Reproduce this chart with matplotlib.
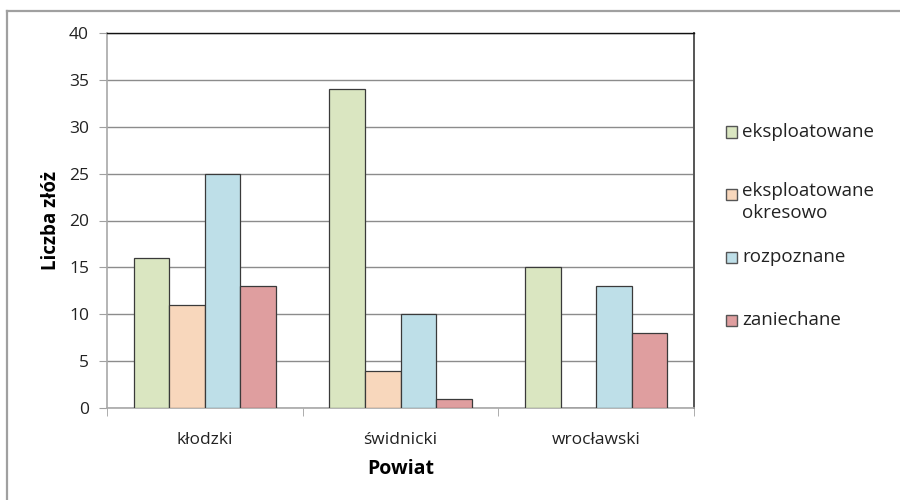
import matplotlib
matplotlib.use("Agg")
import matplotlib.pyplot as plt
from matplotlib.patches import Rectangle
from matplotlib.lines import Line2D
import numpy as np

categories = ["kłodzki", "świdnicki", "wrocławski"]
series_names = ["eksploatowane", "eksploatowane\nokresowo", "rozpoznane", "zaniechane"]
eksploatowane = [16, 34, 15]
eksploatowane_okresowo = [11, 4, 0]
rozpoznane = [25, 10, 13]
zaniechane = [13, 1, 8]
series_values = [eksploatowane, eksploatowane_okresowo, rozpoznane, zaniechane]
colors = ["#DAE6C1", "#F8D7BC", "#BEDFE8", "#DF9E9F"]
y_ticks = [0, 5, 10, 15, 20, 25, 30, 35, 40]

plt.rcParams['font.family'] = ['Open Sans', 'DejaVu Sans']

fig = plt.figure(figsize=(9, 5), dpi=100)
ax = fig.add_axes([107/900, 1-408/500, (694-107)/900, (408-33)/500])

x = np.arange(len(categories))
w = 1/5.5
for i, (vals, c) in enumerate(zip(series_values, colors)):
    ax.bar(x + (i-1.5)*w, vals, width=w, color=c, edgecolor="#3a3a3a",
           linewidth=0.9, zorder=3)

ax.set_xlim(-0.5, len(categories)-0.5)
ax.set_ylim(0, 40)
ax.set_yticks(y_ticks)
ax.yaxis.grid(True, color="#8c8c8c", linewidth=1.0, zorder=0)
ax.set_axisbelow(True)

ax.set_xticks(x)
ax.set_xticklabels(categories, fontsize=12.5, color="#222222")
ax.set_xticks(np.arange(len(categories)+1)-0.5, minor=True)
ax.tick_params(axis='x', which='major', length=0, pad=17)
ax.tick_params(axis='x', which='minor', length=6, color="#a0a0a0", direction='out')
ax.tick_params(axis='y', length=6, color="#a0a0a0", labelsize=12.5, labelcolor="#222222", pad=7)

for s in ['left', 'bottom']:
    ax.spines[s].set_color("#a8a8a8")
    ax.spines[s].set_linewidth(1.2)
ax.spines['top'].set_color("#111111")
ax.spines['top'].set_linewidth(1.0)
ax.spines['right'].set_color("#555555")
ax.spines['right'].set_linewidth(1.4)

ax.set_ylabel("Liczba złóż", fontsize=13.5, fontweight='bold', labelpad=6)
ax.set_xlabel("Powiat", fontsize=14, fontweight='bold', labelpad=8)

# legend
leg_y = [132, 194, 257, 320]
for name, c, yy in zip(series_names, colors, leg_y):
    fig.add_artist(Rectangle((726/900, 1-(yy+5.5)/500), 11/900, 11/500,
                             facecolor=c, edgecolor="#555555", linewidth=1.0,
                             transform=fig.transFigure))
    if '\n' in name:
        fig.text(742/900, 1-(yy-12)/500, name, fontsize=13.5, color="#222222",
                 va='top', ha='left', linespacing=1.3)
    else:
        fig.text(742/900, 1-yy/500, name, fontsize=13.5, color="#222222",
                 va='center', ha='left')

# outer frame
fig.add_artist(Line2D([7/900, 1.0], [1-11/500, 1-11/500], color="#a0a0a0",
                      linewidth=1.6, transform=fig.transFigure))
fig.add_artist(Line2D([7/900, 7/900], [0, 1-11/500], color="#a0a0a0",
                      linewidth=1.6, transform=fig.transFigure))

fig.savefig("out.png", dpi=100)
